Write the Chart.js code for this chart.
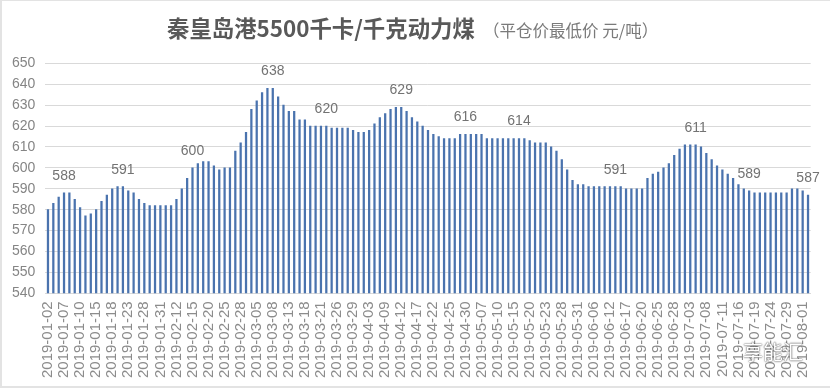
<!DOCTYPE html>
<html>
<head>
<meta charset="utf-8">
<script src="https://cdn.jsdelivr.net/npm/chart.js@4"></script>
<style>
    html, body { margin: 0; padding: 0; width: 830px; height: 388px; overflow: hidden; background: #e3e3e3; }
    #sheet { position: absolute; left: 2px; top: 1px; width: 828px; height: 385px; background: #fff; }
    #title { position: absolute; left: 167px; top: 11px; font: bold 22.4px "Noto Sans CJK SC"; color: #595959; white-space: nowrap; }
    #subtitle { position: absolute; left: 483px; top: 18px; font: 16.5px "Noto Sans CJK SC"; color: #7a7a7a; white-space: nowrap; }
    #mark { position: absolute; left: 743px; top: 337px; font: 20px "Noto Sans CJK SC"; color: #fff; white-space: nowrap;
            text-shadow: 0 0 2px #555, 0 0 1px #555; }
</style>
</head>
<body>
<div id="sheet"><canvas id="coalChart" width="828" height="385"></canvas></div>
<div id="title">秦皇岛港5500千卡/千克动力煤</div>
<div id="subtitle">（平仓价最低价 元/吨）</div>
<div id="mark">享能汇</div>
<script>
// trading days, one bar each
const dates = [
    '2019-01-02', '2019-01-03', '2019-01-04', '2019-01-07', '2019-01-08', '2019-01-09', '2019-01-10', '2019-01-11', '2019-01-14', '2019-01-15',
    '2019-01-16', '2019-01-17', '2019-01-18', '2019-01-21', '2019-01-22', '2019-01-23', '2019-01-24', '2019-01-25', '2019-01-28', '2019-01-29',
    '2019-01-30', '2019-01-31', '2019-02-01', '2019-02-11', '2019-02-12', '2019-02-13', '2019-02-14', '2019-02-15', '2019-02-18', '2019-02-19',
    '2019-02-20', '2019-02-21', '2019-02-22', '2019-02-25', '2019-02-26', '2019-02-27', '2019-02-28', '2019-03-01', '2019-03-04', '2019-03-05',
    '2019-03-06', '2019-03-07', '2019-03-08', '2019-03-11', '2019-03-12', '2019-03-13', '2019-03-14', '2019-03-15', '2019-03-18', '2019-03-19',
    '2019-03-20', '2019-03-21', '2019-03-22', '2019-03-25', '2019-03-26', '2019-03-27', '2019-03-28', '2019-03-29', '2019-04-01', '2019-04-02',
    '2019-04-03', '2019-04-04', '2019-04-08', '2019-04-09', '2019-04-10', '2019-04-11', '2019-04-12', '2019-04-15', '2019-04-16', '2019-04-17',
    '2019-04-18', '2019-04-19', '2019-04-22', '2019-04-23', '2019-04-24', '2019-04-25', '2019-04-26', '2019-04-29', '2019-04-30', '2019-05-05',
    '2019-05-06', '2019-05-07', '2019-05-08', '2019-05-09', '2019-05-10', '2019-05-13', '2019-05-14', '2019-05-15', '2019-05-16', '2019-05-17',
    '2019-05-20', '2019-05-21', '2019-05-22', '2019-05-23', '2019-05-24', '2019-05-27', '2019-05-28', '2019-05-29', '2019-05-30', '2019-05-31',
    '2019-06-04', '2019-06-05', '2019-06-06', '2019-06-10', '2019-06-11', '2019-06-12', '2019-06-13', '2019-06-14', '2019-06-17', '2019-06-18',
    '2019-06-19', '2019-06-20', '2019-06-21', '2019-06-24', '2019-06-25', '2019-06-26', '2019-06-27', '2019-06-28', '2019-07-01', '2019-07-02',
    '2019-07-03', '2019-07-04', '2019-07-05', '2019-07-08', '2019-07-09', '2019-07-10', '2019-07-11', '2019-07-12', '2019-07-15', '2019-07-16',
    '2019-07-17', '2019-07-18', '2019-07-19', '2019-07-22', '2019-07-23', '2019-07-24', '2019-07-25', '2019-07-26', '2019-07-29', '2019-07-30',
    '2019-07-31', '2019-08-01', '2019-08-02'
];

const prices = [
    580, 583, 586, 588, 588, 585, 581, 577, 578, 580,
    584, 587, 590, 591, 591, 589, 588, 585, 583, 582,
    582, 582, 582, 582, 585, 590, 595, 600, 602, 603,
    603, 601, 599, 600, 600, 608, 612, 617, 628, 632,
    636, 638, 638, 634, 630, 627, 627, 623, 623, 620,
    620, 620, 620, 619, 619, 619, 619, 618, 617, 617,
    618, 621, 624, 626, 628, 629, 629, 627, 624, 622,
    620, 618, 616, 615, 614, 614, 614, 616, 616, 616,
    616, 616, 614, 614, 614, 614, 614, 614, 614, 614,
    613, 612, 612, 612, 610, 608, 604, 599, 594, 592,
    592, 591, 591, 591, 591, 591, 591, 591, 590, 590,
    590, 590, 595, 597, 598, 600, 602, 606, 609, 611,
    611, 611, 610, 607, 604, 601, 599, 597, 595, 592,
    590, 589, 588, 588, 588, 588, 588, 588, 588, 590,
    590, 589, 587
];

// dates printed on the x axis
const tickDates = [
    '2019-01-02', '2019-01-07', '2019-01-10', '2019-01-15', '2019-01-18', '2019-01-23', '2019-01-28', '2019-01-31',
    '2019-02-12', '2019-02-15', '2019-02-20', '2019-02-25', '2019-02-28',
    '2019-03-05', '2019-03-08', '2019-03-13', '2019-03-18', '2019-03-21', '2019-03-26', '2019-03-29',
    '2019-04-03', '2019-04-09', '2019-04-12', '2019-04-17', '2019-04-22', '2019-04-25', '2019-04-30',
    '2019-05-07', '2019-05-10', '2019-05-15', '2019-05-20', '2019-05-23', '2019-05-28', '2019-05-31',
    '2019-06-06', '2019-06-12', '2019-06-17', '2019-06-20', '2019-06-25', '2019-06-28',
    '2019-07-03', '2019-07-08', '2019-07-11', '2019-07-16', '2019-07-19', '2019-07-24', '2019-07-29',
    '2019-08-01'
];

// bars that carry a value label
const calloutDates = [
    '2019-01-07', '2019-01-22', '2019-02-15', '2019-03-08', '2019-03-22', '2019-04-12',
    '2019-04-30', '2019-05-16', '2019-06-13', '2019-07-04', '2019-07-18', '2019-08-02'
];

const calloutPlugin = {
    id: 'callouts',
    afterDatasetsDraw(chart) {
        const ctx = chart.ctx;
        const bars = chart.getDatasetMeta(0).data;
        ctx.save();
        ctx.font = '14px "Liberation Sans"';
        ctx.fillStyle = '#737373';
        ctx.textAlign = 'center';
        ctx.textBaseline = 'middle';
        calloutDates.forEach(d => {
            const i = dates.indexOf(d);
            ctx.fillText(String(prices[i]), bars[i].x, bars[i].y - 17);
        });
        ctx.restore();
    }
};

new Chart(document.getElementById('coalChart').getContext('2d'), {
    type: 'bar',
    plugins: [calloutPlugin],
    data: {
        labels: dates,
        datasets: [{
            data: prices,
            backgroundColor: '#4a73ae',
            barThickness: 1.6
        }]
    },
    options: {
        responsive: false,
        animation: false,
        layout: { padding: { top: 62.3, right: 19.3, left: 0, bottom: 0 } },
        plugins: {
            legend: { display: false },
            tooltip: { enabled: false }
        },
        scales: {
            x: {
                grid: { display: false },
                border: { color: '#d9d9d9' },
                afterFit: scale => { scale.height = 92.7; },
                ticks: {
                    autoSkip: false,
                    minRotation: 90,
                    maxRotation: 90,
                    padding: 0,
                    color: '#8c8c8c',
                    font: { family: 'Liberation Sans', size: 15 },
                    callback: function(value) {
                        const label = this.getLabelForValue(value);
                        return tickDates.includes(label) ? label : '';
                    }
                }
            },
            y: {
                min: 540,
                max: 650,
                afterFit: scale => { scale.width = 43.3; },
                grid: { color: '#d9d9d9', tickLength: 0 },
                border: { display: false },
                ticks: {
                    stepSize: 10,
                    padding: 10,
                    color: '#858585',
                    font: { family: 'Liberation Sans', size: 14 }
                }
            }
        }
    }
});
</script>
</body>
</html>
